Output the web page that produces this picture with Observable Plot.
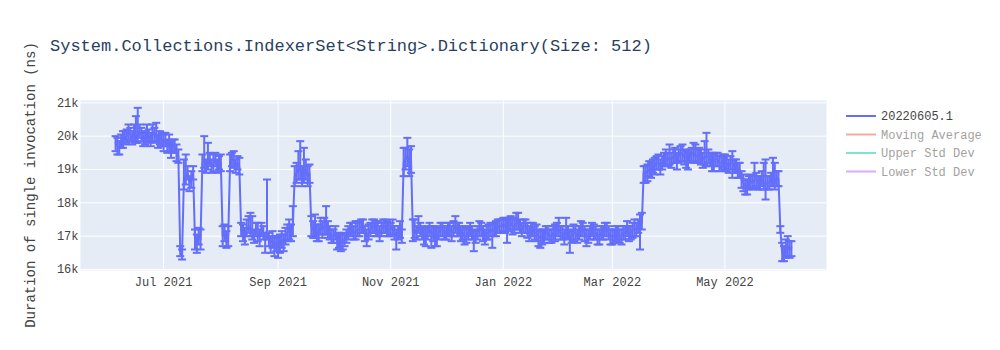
<!DOCTYPE html>
<html>
<head>
<meta charset="utf-8">
<script src="https://cdn.jsdelivr.net/npm/d3@7"></script>
<script src="https://cdn.jsdelivr.net/npm/@observablehq/plot@0.6"></script>
<style>
  html, body { margin: 0; padding: 0; background: #fff; }
  #wrap { position: relative; width: 1000px; height: 350px; }
  #overlay { position: absolute; left: 0; top: 0; pointer-events: none; }
</style>
</head>
<body>
<div id="wrap"></div>
<script>
// ---- data (durations in thousands of ns) ----
const title = "System.Collections.IndexerSet<String>.Dictionary(Size: 512)";
const yLabel = "Duration of single invocation (ns)";
const seriesNames = ["20220605.1", "Moving Average", "Upper Std Dev", "Lower Std Dev"];
const seriesColors = ["#636efa", "#EF553B", "#00cc96", "#ab63fa"];

const dates = [
  "2021-06-05","2021-06-06","2021-06-07","2021-06-08","2021-06-09","2021-06-10","2021-06-11","2021-06-12","2021-06-13","2021-06-14","2021-06-15","2021-06-16","2021-06-17","2021-06-18","2021-06-19","2021-06-20","2021-06-21","2021-06-22","2021-06-23","2021-06-24","2021-06-25","2021-06-26","2021-06-27","2021-06-28","2021-06-29","2021-06-30",
  "2021-07-01","2021-07-02","2021-07-03","2021-07-04","2021-07-05","2021-07-06","2021-07-07","2021-07-08","2021-07-09","2021-07-10","2021-07-11","2021-07-12","2021-07-13","2021-07-14","2021-07-15","2021-07-16","2021-07-17","2021-07-18","2021-07-19","2021-07-20","2021-07-21","2021-07-22","2021-07-23","2021-07-24","2021-07-25","2021-07-26","2021-07-27","2021-07-28","2021-07-29","2021-07-30","2021-07-31",
  "2021-08-01","2021-08-02","2021-08-03","2021-08-04","2021-08-05","2021-08-06","2021-08-07","2021-08-08","2021-08-09","2021-08-10","2021-08-11","2021-08-12","2021-08-13","2021-08-14","2021-08-15","2021-08-16","2021-08-17","2021-08-18","2021-08-19","2021-08-20","2021-08-21","2021-08-22","2021-08-23","2021-08-24","2021-08-25","2021-08-26","2021-08-27","2021-08-28","2021-08-29","2021-08-30","2021-08-31",
  "2021-09-01","2021-09-02","2021-09-03","2021-09-04","2021-09-05","2021-09-06","2021-09-07","2021-09-08","2021-09-09","2021-09-10","2021-09-11","2021-09-12","2021-09-13","2021-09-14","2021-09-15","2021-09-16","2021-09-17","2021-09-18","2021-09-19","2021-09-20","2021-09-21","2021-09-22","2021-09-23","2021-09-24","2021-09-25","2021-09-26","2021-09-27","2021-09-28","2021-09-29","2021-09-30",
  "2021-10-01","2021-10-02","2021-10-03","2021-10-04","2021-10-05","2021-10-06","2021-10-07","2021-10-08","2021-10-09","2021-10-10","2021-10-11","2021-10-12","2021-10-13","2021-10-14","2021-10-15","2021-10-16","2021-10-17","2021-10-18","2021-10-19","2021-10-20","2021-10-21","2021-10-22","2021-10-23","2021-10-24","2021-10-25","2021-10-26","2021-10-27","2021-10-28","2021-10-29","2021-10-30","2021-10-31",
  "2021-11-01","2021-11-02","2021-11-03","2021-11-04","2021-11-05","2021-11-06","2021-11-07","2021-11-08","2021-11-09","2021-11-10","2021-11-11","2021-11-12","2021-11-13","2021-11-14","2021-11-15","2021-11-16","2021-11-17","2021-11-18","2021-11-19","2021-11-20","2021-11-21","2021-11-22","2021-11-23","2021-11-24","2021-11-25","2021-11-26","2021-11-27","2021-11-28","2021-11-29","2021-11-30",
  "2021-12-01","2021-12-02","2021-12-03","2021-12-04","2021-12-05","2021-12-06","2021-12-07","2021-12-08","2021-12-09","2021-12-10","2021-12-11","2021-12-12","2021-12-13","2021-12-14","2021-12-15","2021-12-16","2021-12-17","2021-12-18","2021-12-19","2021-12-20","2021-12-21","2021-12-22","2021-12-23","2021-12-24","2021-12-25","2021-12-26","2021-12-27","2021-12-28","2021-12-29","2021-12-30","2021-12-31",
  "2022-01-01","2022-01-02","2022-01-03","2022-01-04","2022-01-05","2022-01-06","2022-01-07","2022-01-08","2022-01-09","2022-01-10","2022-01-11","2022-01-12","2022-01-13","2022-01-14","2022-01-15","2022-01-16","2022-01-17","2022-01-18","2022-01-19","2022-01-20","2022-01-21","2022-01-22","2022-01-23","2022-01-24","2022-01-25","2022-01-26","2022-01-27","2022-01-28","2022-01-29","2022-01-30","2022-01-31",
  "2022-02-01","2022-02-02","2022-02-03","2022-02-04","2022-02-05","2022-02-06","2022-02-07","2022-02-08","2022-02-09","2022-02-10","2022-02-11","2022-02-12","2022-02-13","2022-02-14","2022-02-15","2022-02-16","2022-02-17","2022-02-18","2022-02-19","2022-02-20","2022-02-21","2022-02-22","2022-02-23","2022-02-24","2022-02-25","2022-02-26","2022-02-27","2022-02-28",
  "2022-03-01","2022-03-02","2022-03-03","2022-03-04","2022-03-05","2022-03-06","2022-03-07","2022-03-08","2022-03-09","2022-03-10","2022-03-11","2022-03-12","2022-03-13","2022-03-14","2022-03-15","2022-03-16","2022-03-17","2022-03-18","2022-03-19","2022-03-20","2022-03-21","2022-03-22","2022-03-23","2022-03-24","2022-03-25","2022-03-26","2022-03-27","2022-03-28","2022-03-29","2022-03-30","2022-03-31",
  "2022-04-01","2022-04-02","2022-04-03","2022-04-04","2022-04-05","2022-04-06","2022-04-07","2022-04-08","2022-04-09","2022-04-10","2022-04-11","2022-04-12","2022-04-13","2022-04-14","2022-04-15","2022-04-16","2022-04-17","2022-04-18","2022-04-19","2022-04-20","2022-04-21","2022-04-22","2022-04-23","2022-04-24","2022-04-25","2022-04-26","2022-04-27","2022-04-28","2022-04-29","2022-04-30",
  "2022-05-01","2022-05-02","2022-05-03","2022-05-04","2022-05-05","2022-05-06","2022-05-07","2022-05-08","2022-05-09","2022-05-10","2022-05-11","2022-05-12","2022-05-13","2022-05-14","2022-05-15","2022-05-16","2022-05-17","2022-05-18","2022-05-19","2022-05-20","2022-05-21","2022-05-22","2022-05-23","2022-05-24","2022-05-25","2022-05-26","2022-05-27","2022-05-28","2022-05-29","2022-05-30","2022-05-31",
  "2022-06-01","2022-06-02","2022-06-03","2022-06-04","2022-06-05","2022-06-06"
];

const durationK = [
  19.8,19.7,19.65,19.85,19.9, 19.95,20.0,20.1,20.05,19.95, 20.1,20.0,20.0,20.15,20.05, 19.9,19.95,20.05,20.0,19.9, 20.1,20.05,20.0,19.85,19.95, 19.9,
  19.8,19.9,19.7,19.8,19.6, 19.7,19.7,19.5,19.4,16.55, 16.45,18.7,18.8,18.9,18.6, 18.7,18.9,16.9,16.8,17.0, 16.9,19.2,19.3,19.1,19.2, 19.3,19.1,19.2,19.3,19.1, 19.2,
  19.2,17.0,17.1,16.9,17.0, 19.2,19.3,19.3,19.1,19.2, 19.1,17.2,17.1,17.0,17.2, 17.3,17.2,17.1,17.0,17.2, 17.1,17.0,17.2,17.1,16.9, 17.2,16.9,16.8,16.9,16.7, 16.8,
  16.7,16.8,16.9,16.8,17.0, 17.1,17.2,17.1,17.3,18.8, 18.9,19.0,19.0,18.8,18.9, 19.0,18.8,18.9,17.3,17.2, 17.2,17.1,17.1,17.3,17.2, 17.3,17.3,17.2,17.1,17.0,
  17.0,17.1,16.85,16.9,16.8, 16.85,16.9,17.0,17.1,17.2, 17.2,17.1,17.1,17.2,17.2, 17.3,17.3,17.1,17.0,17.1, 17.2,17.3,17.3,17.2,17.2, 17.1,17.2,17.3,17.3,17.2, 17.2,
  17.2,17.3,17.1,17.0,17.1, 17.2,17.0,19.2,19.3,19.4, 19.2,19.3,17.1,17.2,17.1, 17.3,17.2,17.1,17.0,17.0, 17.1,17.2,17.1,17.1,17.0, 17.0,17.1,17.2,17.2,17.1,
  17.1,17.2,17.2,17.1,17.2, 17.3,17.2,17.2,17.1,17.1, 17.0,17.0,17.1,17.2,17.1, 16.95,17.0,17.1,17.2,17.2, 17.1,17.0,17.1,17.1,17.2, 17.15,17.2,17.2,17.3,17.3, 17.3,
  17.35,17.3,17.3,17.35,17.4, 17.3,17.3,17.4,17.4,17.3, 17.2,17.3,17.3,17.2,17.1, 17.2,17.2,17.1,17.1,17.0, 16.95,17.0,17.0,17.1,17.1, 17.0,17.0,17.1,17.1,17.2, 17.2,
  17.1,17.1,17.0,17.15,17.1, 16.95,17.0,17.1,17.1,17.0, 17.1,17.2,17.2,17.1,17.0, 17.0,17.1,17.2,17.1,17.1, 17.0,17.0,17.1,17.1,17.2, 17.2,17.1,17.0,
  17.0,17.0,17.1,17.1,17.0, 17.0,17.1,17.1,17.2,17.1, 17.1,17.2,17.2,17.2,17.3, 17.35,17.4,18.9,18.9,18.95, 19.0,19.0,19.1,19.1,19.2, 19.2,19.1,19.2,19.3,19.3, 19.3,
  19.35,19.3,19.4,19.4,19.3, 19.4,19.5,19.45,19.4,19.35, 19.3,19.4,19.45,19.5,19.4, 19.4,19.45,19.4,19.3,19.35, 19.4,19.4,19.3,19.25,19.25, 19.3,19.3,19.2,19.2,19.25,
  19.2,19.2,19.1,19.2,19.2, 19.1,19.1,19.0,19.0,18.7, 18.6,18.5,18.5,18.6,18.65, 18.6,18.7,18.7,18.6,18.6, 18.7,18.6,18.55,18.6,18.6, 18.7,18.7,18.6,18.75,18.7, 17.2,
  16.5,16.45,16.6,16.7,16.6, 16.65
];

const errUpK = [
  .2,.25,.2,.2,.25, .2,.2,.25,.2,.2, .25,.6,.85,.2,.2, .2,.2,.3,.2,.2, .25,.2,.4,.2,.2, .2,
  .25,.2,.2,.25,.25, .2,.2,.25,.2,.15, .15,.6,.65,.2,.2, .25,.2,.3,.25,.25, .3,.25,.7,.2,.6, .2,.2,.25,.2,.2, .2,
  .25,.3,.25,.25,.3, .25,.2,.25,.2,.2, .25,.2,.25,.25,.3, .3,.5,.5,.2,.2, .3,.2,.2,.2,.2, 1.5,.2,.2,.25,.25, .2,
  .3,.25,.25,.25,.25, .25,.3,.25,.6,.3, .3,.55,.85,.3,.75, .3,.3,.25,.3,.25, .45,.25,.25,.25,.25, .25,.6,.25,.2,.2,
  .2,.2,.25,.2,.25, .2,.2,.2,.2,.2, .2,.2,.35,.2,.25, .2,.2,.2,.2,.25, .2,.2,.2,.2,.25, .2,.2,.2,.2,.25, .2,
  .2,.2,.2,.2,.2, .25,.2,.45,.35,.55, .4,.4,.4,.3,.2, .3,.2,.2,.2,.25, .2,.2,.2,.2,.25, .25,.2,.2,.2,.2,
  .2,.2,.2,.2,.25, .3,.2,.2,.2,.2, .2,.25,.2,.2,.2, .2,.2,.2,.25,.2, .2,.2,.2,.25,.2, .2,.2,.25,.2,.2, .2,
  .2,.25,.2,.2,.2, .25,.2,.3,.3,.2, .2,.2,.2,.2,.2, .2,.2,.2,.25,.2, .2,.2,.2,.2,.2, .2,.2,.2,.25,.2, .35,
  .2,.2,.2,.4,.2, .2,.2,.25,.2,.2, .2,.25,.2,.2,.2, .2,.2,.2,.25,.2, .2,.2,.2,.2,.2, .2,.2,.2,
  .2,.2,.2,.2,.2, .2,.2,.2,.25,.2, .2,.2,.3,.2,.2, .3,.3,.2,.2,.2, .25,.2,.2,.25,.2, .25,.2,.2,.2,.3, .2,
  .4,.2,.2,.25,.2, .2,.2,.3,.2,.2, .2,.2,.2,.3,.35, .2,.2,.2,.2,.5, .7,.2,.2,.25,.2, .2,.2,.2,.2,.2,
  .25,.2,.2,.2,.35, .2,.2,.2,.2,.25, .25,.2,.2,.2,.2, .2,.5,.2,.2,.2, .25,.6,.75,.2,.2, .2,.65,.6,.2,.25, .1,
  .3,.25,.3,.3,.25, .2
];

const errDownK = [
  .25,.25,.2,.2,.25, .2,.2,.2,.2,.2, .25,.2,.2,.2,.2, .2,.2,.2,.2,.2, .25,.2,.2,.2,.2, .2,
  .25,.2,.2,.25,.25, .2,.2,.25,.2,.15, .15,.3,.25,.2,.25, .25,.2,.3,.3,.25, .3,.25,.25,.2,.2, .2,.2,.25,.2,.2, .2,
  .25,.3,.25,.25,.3, .25,.2,.25,.2,.2, .25,.2,.25,.25,.2, .2,.2,.2,.2,.2, .25,.3,.2,.2,.4, .3,.2,.3,.25,.3, .25,
  .35,.3,.25,.25,.25, .25,.3,.25,.3,.3, .3,.3,.3,.3,.3, .3,.3,.3,.3,.25, .25,.25,.25,.25,.25, .25,.25,.25,.2,.2,
  .2,.2,.25,.25,.25, .25,.2,.2,.2,.2, .2,.2,.2,.2,.2, .2,.2,.25,.3,.2, .2,.2,.2,.2,.2, .25,.2,.2,.2,.2, .2,
  .2,.25,.2,.4,.2, .25,.2,.4,.3,.3, .4,.4,.25,.25,.2, .2,.2,.2,.25,.3, .2,.2,.45,.25,.3, .3,.2,.2,.2,.2,
  .2,.2,.2,.25,.2, .2,.2,.2,.25,.2, .25,.2,.2,.2,.2, .4,.2,.2,.2,.2, .25,.25,.2,.2,.2, .5,.2,.2,.2,.2, .2,
  .2,.2,.5,.2,.2, .25,.2,.2,.2,.2, .2,.2,.2,.25,.25, .2,.2,.2,.25,.3, .3,.25,.2,.2,.2, .2,.2,.2,.25,.2, .2,
  .2,.2,.25,.2,.2, .45,.2,.25,.2,.2, .2,.2,.2,.25,.3, .2,.2,.2,.2,.2, .25,.25,.2,.2,.2, .2,.2,.25,
  .25,.2,.25,.2,.2, .25,.2,.2,.2,.25, .2,.25,.2,.2,.2, .75,.2,.3,.3,.3, .2,.25,.2,.25,.2, .2,.25,.2,.2,.2, .2,
  .2,.25,.2,.2,.3, .2,.25,.2,.25,.3, .3,.2,.2,.25,.2, .2,.2,.25,.25,.2, .3,.2,.2,.3,.3, .2,.2,.25,.25,.2,
  .2,.25,.2,.2,.45, .2,.2,.25,.25,.25, .25,.25,.25,.2,.2, .2,.25,.2,.2,.2, .2,.2,.45,.2,.2, .2,.2,.2,.25,.2, .1,
  .25,.2,.25,.3,.25, .25
];

const xTicks = ["2021-07-01","2021-09-01","2021-11-01","2022-01-01","2022-03-01","2022-05-01"];
const yTicks = [16, 17, 18, 19, 20, 21];
const xDomain = ["2021-05-17", "2022-06-25"];
const yDomain = [15.97, 21.07];

// ---- build table ----
const toDate = s => new Date(s + "T00:00:00Z");
const rows = dates.map((d, i) => ({
  date: toDate(d),
  v: durationK[i],
  hi: durationK[i] + errUpK[i],
  lo: durationK[i] - errDownK[i]
})).filter(r => r.v != null && isFinite(r.hi) && isFinite(r.lo));

const capSymbol = { draw(ctx) { ctx.moveTo(-4, 0); ctx.lineTo(4, 0); } };
const blue = seriesColors[0];
const font = '"Liberation Mono", "Courier New", "DejaVu Sans Mono", monospace';

const chart = Plot.plot({
  width: 1000,
  height: 350,
  marginLeft: 80,
  marginRight: 174,
  marginTop: 100,
  marginBottom: 80,
  style: { fontFamily: font, fontSize: "12px", color: "#444", background: "transparent" },
  x: { type: "utc", domain: xDomain.map(toDate) },
  y: { domain: yDomain },
  marks: [
    Plot.frame({ fill: "#E5ECF6", stroke: null }),
    Plot.gridX({ ticks: xTicks.map(toDate), stroke: "#fff", strokeOpacity: 1, strokeWidth: 1 }),
    Plot.gridY({ ticks: yTicks, stroke: "#fff", strokeOpacity: 1, strokeWidth: 1 }),
    Plot.axisX({ ticks: xTicks.map(toDate), tickFormat: d3.utcFormat("%b %Y"), tickSize: 0, tickPadding: 7, fontSize: 12, label: null }),
    Plot.axisY({ ticks: yTicks, tickFormat: d => d + "k", tickSize: 0, tickPadding: 2, fontSize: 12, label: null }),
    Plot.ruleX(rows, { x: "date", y1: "lo", y2: "hi", stroke: blue, strokeWidth: 2 }),
    Plot.dot(rows, { x: "date", y: "hi", symbol: capSymbol, r: 4, stroke: blue, strokeWidth: 2, fill: "none" }),
    Plot.dot(rows, { x: "date", y: "lo", symbol: capSymbol, r: 4, stroke: blue, strokeWidth: 2, fill: "none" }),
    Plot.line(rows, { x: "date", y: "v", stroke: blue, strokeWidth: 2 })
  ]
});

const wrap = document.getElementById("wrap");
wrap.appendChild(chart);

// ---- overlay: title, y-axis label, legend ----
const ns = "http://www.w3.org/2000/svg";
const ov = document.createElementNS(ns, "svg");
ov.setAttribute("id", "overlay");
ov.setAttribute("width", 1000);
ov.setAttribute("height", 350);
function txt(parent, x, y, s, attrs) {
  const t = document.createElementNS(ns, "text");
  t.setAttribute("x", x); t.setAttribute("y", y);
  t.setAttribute("font-family", font);
  for (const k in attrs) t.setAttribute(k, attrs[k]);
  t.textContent = s;
  parent.appendChild(t);
  return t;
}
txt(ov, 50, 51, title, { "font-size": "17px", fill: "#2a3f5f" });
txt(ov, 0, 0, yLabel, { "font-size": "14px", fill: "#444", "text-anchor": "middle",
  transform: "translate(35,185) rotate(-90)" });

const legendY = [116, 134.5, 153, 171.5];
seriesNames.forEach((name, i) => {
  const g = document.createElementNS(ns, "g");
  if (i > 0) g.setAttribute("opacity", "0.5");
  const l = document.createElementNS(ns, "line");
  l.setAttribute("x1", 846); l.setAttribute("x2", 876);
  l.setAttribute("y1", legendY[i]); l.setAttribute("y2", legendY[i]);
  l.setAttribute("stroke", seriesColors[i]); l.setAttribute("stroke-width", 2);
  g.appendChild(l);
  txt(g, 881, legendY[i] + 4, name, { "font-size": "12px", fill: "#444" });
  ov.appendChild(g);
});
wrap.appendChild(ov);
</script>
</body>
</html>
